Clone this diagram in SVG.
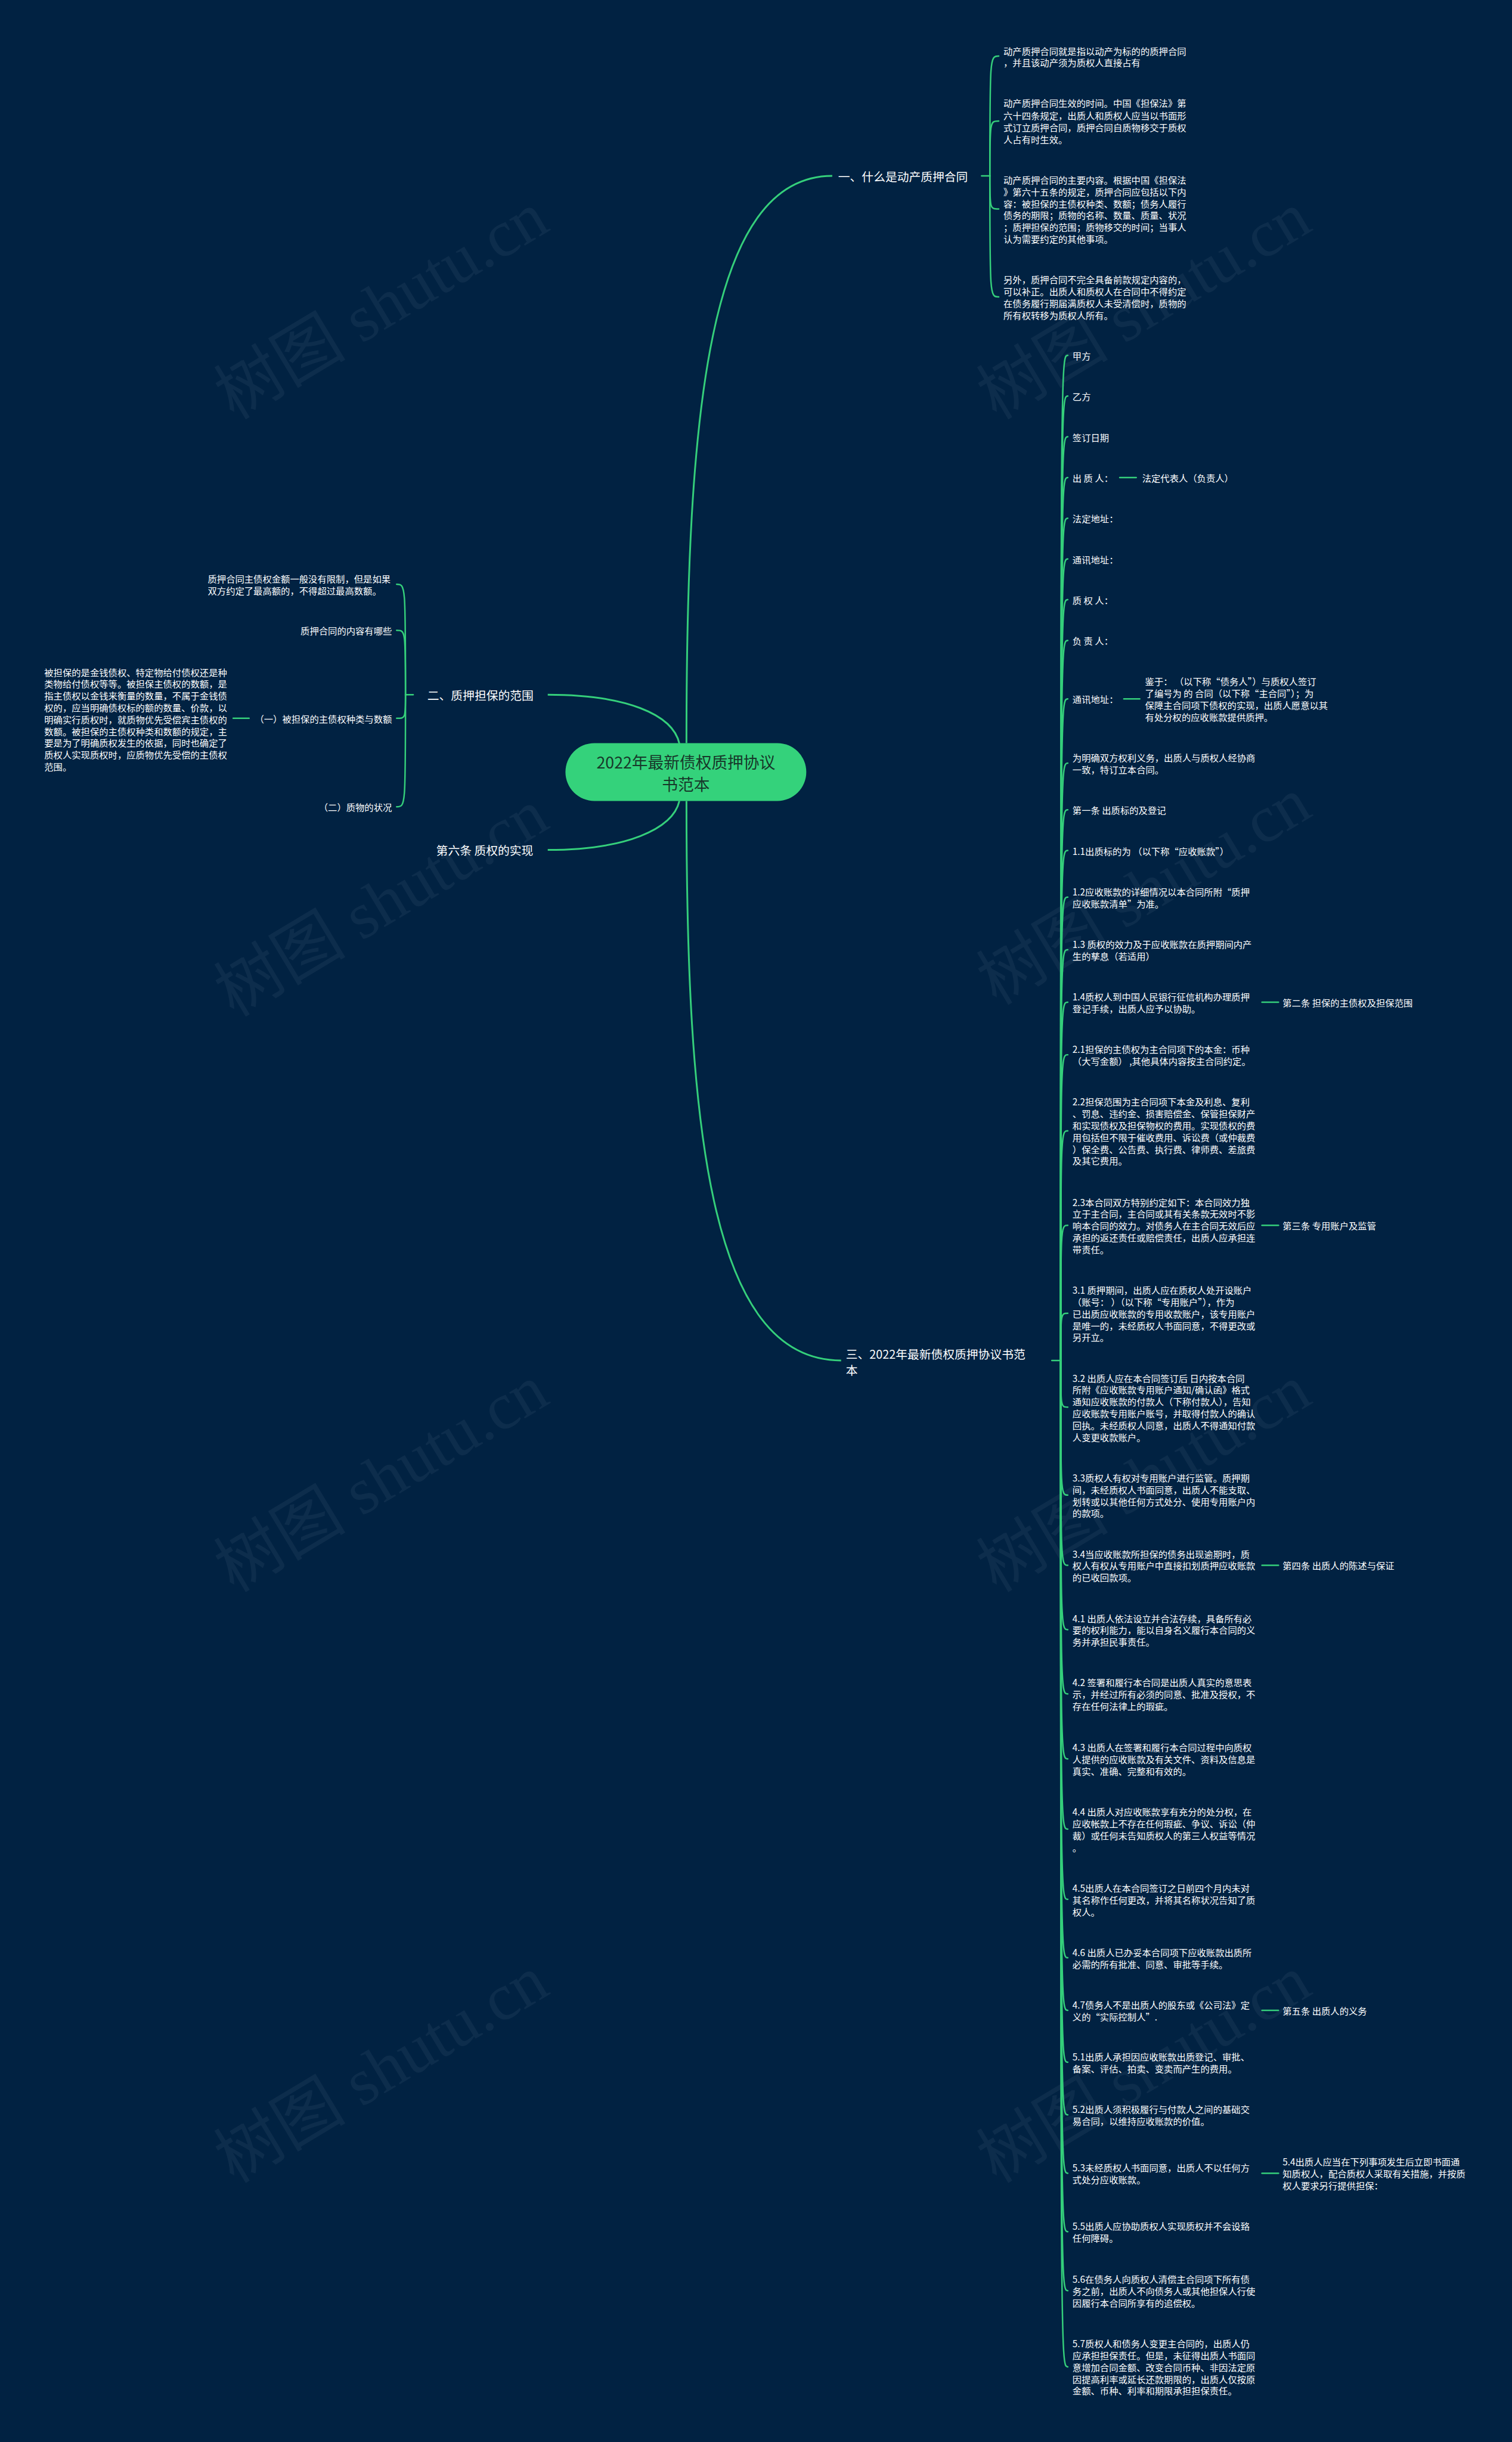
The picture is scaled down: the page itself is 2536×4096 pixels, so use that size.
<svg xmlns="http://www.w3.org/2000/svg" width="2536" height="4096" viewBox="0 0 2536 4096">
<style>
.t{font-family:"Noto Sans CJK SC","Microsoft YaHei",sans-serif;font-size:15.5px;fill:#ffffff;dominant-baseline:central}
.b{font-size:20px}
.r{font-size:27px;fill:#17382a;text-anchor:middle}
.e{text-anchor:end}
.ln{fill:none;stroke:#35cf7b;stroke-width:2.5;stroke-linecap:round}
.mn{fill:none;stroke:#35cf7b;stroke-width:3}
.wm{font-family:"Liberation Serif","Noto Sans CJK SC",serif;font-size:112px;fill:#8a9bb0;opacity:0.09;text-anchor:middle;dominant-baseline:central}
</style>
<rect width="2536" height="4096" fill="#012242"/>
<g transform="scale(0.99)">
<g id="watermarks">
<text class="wm" transform="translate(646,518) rotate(-31)">树图 shutu.cn</text>
<text class="wm" transform="translate(646,1530) rotate(-31)">树图 shutu.cn</text>
<text class="wm" transform="translate(646,2505) rotate(-31)">树图 shutu.cn</text>
<text class="wm" transform="translate(646,3506) rotate(-31)">树图 shutu.cn</text>
<text class="wm" transform="translate(1938,518) rotate(-31)">树图 shutu.cn</text>
<text class="wm" transform="translate(1938,1510) rotate(-31)">树图 shutu.cn</text>
<text class="wm" transform="translate(1938,2505) rotate(-31)">树图 shutu.cn</text>
<text class="wm" transform="translate(1938,3506) rotate(-31)">树图 shutu.cn</text>
</g>
<g id="connectors">
<path class="mn" d="M1163,1259 C1163,700 1200,298 1410,298"/>
<path class="mn" d="M1163,1357 C1163,1900 1200,2305 1425,2305"/>
<path class="mn" d="M1151,1260 C1140,1210 1060,1177 928,1177"/>
<path class="mn" d="M1151,1357 C1140,1405 1060,1440 928,1440"/>
<path class="ln" d="M1663,298 L1677,298"/>
<path class="ln" d="M1677,298 C1677,95 1677,95 1692,95"/>
<path class="ln" d="M1677,298 C1677,205 1677,205 1692,205"/>
<path class="ln" d="M1677,298 C1677,354 1677,354 1692,354"/>
<path class="ln" d="M1677,298 C1677,503 1677,503 1692,503"/>
<path class="ln" d="M700,1177 L687,1177"/>
<path class="ln" d="M687,1177 C687,990 687,990 672,990"/>
<path class="ln" d="M687,1177 C687,1068 687,1068 672,1068"/>
<path class="ln" d="M687,1177 C687,1217 687,1217 672,1217"/>
<path class="ln" d="M687,1177 C687,1367 687,1367 672,1367"/>
<path class="ln" d="M395,1217 L422,1217"/>
<path class="ln" d="M1782,2305 L1797,2305"/>
<path class="ln" d="M1797,2305 C1797,602 1797,602 1809,602"/>
<path class="ln" d="M1797,2305 C1797,671 1797,671 1809,671"/>
<path class="ln" d="M1797,2305 C1797,740 1797,740 1809,740"/>
<path class="ln" d="M1797,2305 C1797,809 1797,809 1809,809"/>
<path class="ln" d="M1797,2305 C1797,878 1797,878 1809,878"/>
<path class="ln" d="M1797,2305 C1797,947 1797,947 1809,947"/>
<path class="ln" d="M1797,2305 C1797,1016 1797,1016 1809,1016"/>
<path class="ln" d="M1797,2305 C1797,1085 1797,1085 1809,1085"/>
<path class="ln" d="M1797,2305 C1797,1184 1797,1184 1809,1184"/>
<path class="ln" d="M1797,2305 C1797,1293 1797,1293 1809,1293"/>
<path class="ln" d="M1797,2305 C1797,1372 1797,1372 1809,1372"/>
<path class="ln" d="M1797,2305 C1797,1441 1797,1441 1809,1441"/>
<path class="ln" d="M1797,2305 C1797,1520 1797,1520 1809,1520"/>
<path class="ln" d="M1797,2305 C1797,1609 1797,1609 1809,1609"/>
<path class="ln" d="M1797,2305 C1797,1698 1797,1698 1809,1698"/>
<path class="ln" d="M1797,2305 C1797,1787 1797,1787 1809,1787"/>
<path class="ln" d="M1797,2305 C1797,1916 1797,1916 1809,1916"/>
<path class="ln" d="M1797,2305 C1797,2076 1797,2076 1809,2076"/>
<path class="ln" d="M1797,2305 C1797,2225 1797,2225 1809,2225"/>
<path class="ln" d="M1797,2305 C1797,2384 1797,2384 1809,2384"/>
<path class="ln" d="M1797,2305 C1797,2533 1797,2533 1809,2533"/>
<path class="ln" d="M1797,2305 C1797,2652 1797,2652 1809,2652"/>
<path class="ln" d="M1797,2305 C1797,2761 1797,2761 1809,2761"/>
<path class="ln" d="M1797,2305 C1797,2870 1797,2870 1809,2870"/>
<path class="ln" d="M1797,2305 C1797,2980 1797,2980 1809,2980"/>
<path class="ln" d="M1797,2305 C1797,3099 1797,3099 1809,3099"/>
<path class="ln" d="M1797,2305 C1797,3218 1797,3218 1809,3218"/>
<path class="ln" d="M1797,2305 C1797,3317 1797,3317 1809,3317"/>
<path class="ln" d="M1797,2305 C1797,3406 1797,3406 1809,3406"/>
<path class="ln" d="M1797,2305 C1797,3494 1797,3494 1809,3494"/>
<path class="ln" d="M1797,2305 C1797,3583 1797,3583 1809,3583"/>
<path class="ln" d="M1797,2305 C1797,3682 1797,3682 1809,3682"/>
<path class="ln" d="M1797,2305 C1797,3781 1797,3781 1809,3781"/>
<path class="ln" d="M1797,2305 C1797,3881 1797,3881 1809,3881"/>
<path class="ln" d="M1797,2305 C1797,4010 1797,4010 1809,4010"/>
<path class="ln" d="M1897,809 L1925,809"/>
<path class="ln" d="M1904,1184 L1931,1184"/>
<path class="ln" d="M2138,1698 L2166,1698"/>
<path class="ln" d="M2138,2076 L2166,2076"/>
<path class="ln" d="M2138,2652 L2166,2652"/>
<path class="ln" d="M2138,3406 L2166,3406"/>
<path class="ln" d="M2138,3682 L2166,3682"/>
</g>
<g id="root">
<rect x="958" y="1259" width="408" height="98" rx="49" fill="#34d27b"/>
<text class="t r"><tspan x="1162" y="1290">2022年最新债权质押协议</tspan><tspan x="1162" y="1327">书范本</tspan></text>
</g>
<g id="n1"><text class="t b" x="1420" y="298">一、什么是动产质押合同</text></g>
<g id="n1-1"><text class="t"><tspan x="1700" y="86">动产质押合同就是指以动产为标的的质押合同</tspan><tspan x="1700" y="105">，并且该动产须为质权人直接占有</tspan></text></g>
<g id="n1-2"><text class="t"><tspan x="1700" y="174">动产质押合同生效的时间。中国《担保法》第</tspan><tspan x="1700" y="195">六十四条规定，出质人和质权人应当以书面形</tspan><tspan x="1700" y="215">式订立质押合同，质押合同自质物移交于质权</tspan><tspan x="1700" y="235">人占有时生效。</tspan></text></g>
<g id="n1-3"><text class="t"><tspan x="1700" y="304">动产质押合同的主要内容。根据中国《担保法</tspan><tspan x="1700" y="324">》第六十五条的规定，质押合同应包括以下内</tspan><tspan x="1700" y="344">容：被担保的主债权种类、数额；债务人履行</tspan><tspan x="1700" y="364">债务的期限；质物的名称、数量、质量、状况</tspan><tspan x="1700" y="384">；质押担保的范围；质物移交的时间；当事人</tspan><tspan x="1700" y="404">认为需要约定的其他事项。</tspan></text></g>
<g id="n1-4"><text class="t"><tspan x="1700" y="473">另外，质押合同不完全具备前款规定内容的，</tspan><tspan x="1700" y="493">可以补正。出质人和质权人在合同中不得约定</tspan><tspan x="1700" y="513">在债务履行期届满质权人未受清偿时，质物的</tspan><tspan x="1700" y="533">所有权转移为质权人所有。</tspan></text></g>
<g id="n2"><text class="t b" x="724" y="1177">二、质押担保的范围</text></g>
<g id="n2-1"><text class="t"><tspan x="352" y="980">质押合同主债权金额一般没有限制，但是如果</tspan><tspan x="352" y="1000">双方约定了最高额的，不得超过最高数额。</tspan></text></g>
<g id="n2-2"><text class="t e" x="664" y="1068">质押合同的内容有哪些</text></g>
<g id="n2-3"><text class="t e" x="664" y="1217">（一）被担保的主债权种类与数额</text></g>
<g id="n2-3-1"><text class="t"><tspan x="75" y="1138">被担保的是金钱债权、特定物给付债权还是种</tspan><tspan x="75" y="1158">类物给付债权等等。被担保主债权的数额，是</tspan><tspan x="75" y="1178">指主债权以金钱来衡量的数量，不属于金钱债</tspan><tspan x="75" y="1198">权的，应当明确债权标的额的数量、价款，以</tspan><tspan x="75" y="1218">明确实行质权时，就质物优先受偿宾主债权的</tspan><tspan x="75" y="1238">数额。被担保的主债权种类和数额的规定，主</tspan><tspan x="75" y="1258">要是为了明确质权发生的依据，同时也确定了</tspan><tspan x="75" y="1278">质权人实现质权时，应质物优先受偿的主债权</tspan><tspan x="75" y="1298">范围。</tspan></text></g>
<g id="n2-4"><text class="t e" x="664" y="1367">（二）质物的状况</text></g>
<g id="n4"><text class="t b" x="739" y="1440">第六条 质权的实现</text></g>
<g id="n3"><text class="t b"><tspan x="1433" y="2293">三、2022年最新债权质押协议书范</tspan><tspan x="1433" y="2320">本</tspan></text></g>
<g id="n3-1"><text class="t" x="1817" y="602">甲方</text></g>
<g id="n3-2"><text class="t" x="1817" y="671">乙方</text></g>
<g id="n3-3"><text class="t" x="1817" y="740">签订日期</text></g>
<g id="n3-4"><text class="t" x="1817" y="809">出 质 人：</text></g>
<g id="n3-4-1"><text class="t" x="1935" y="809">法定代表人（负责人）</text></g>
<g id="n3-5"><text class="t" x="1817" y="878">法定地址：</text></g>
<g id="n3-6"><text class="t" x="1817" y="947">通讯地址：</text></g>
<g id="n3-7"><text class="t" x="1817" y="1016">质 权 人：</text></g>
<g id="n3-8"><text class="t" x="1817" y="1085">负 责 人：</text></g>
<g id="n3-9"><text class="t" x="1817" y="1184">通讯地址：</text></g>
<g id="n3-9-1"><text class="t"><tspan x="1940" y="1154">鉴于：   （以下称“债务人”）与质权人签订</tspan><tspan x="1940" y="1174">了编号为 的 合同（以下称“主合同”）；为</tspan><tspan x="1940" y="1194">保障主合同项下债权的实现，出质人愿意以其</tspan><tspan x="1940" y="1214">有处分权的应收账款提供质押。</tspan></text></g>
<g id="n3-10"><text class="t"><tspan x="1817" y="1283">为明确双方权利义务，出质人与质权人经协商</tspan><tspan x="1817" y="1303">一致，特订立本合同。</tspan></text></g>
<g id="n3-11"><text class="t" x="1817" y="1372">第一条 出质标的及登记</text></g>
<g id="n3-12"><text class="t" x="1817" y="1441">1.1出质标的为  （以下称“应收账款”）</text></g>
<g id="n3-13"><text class="t"><tspan x="1817" y="1510">1.2应收账款的详细情况以本合同所附“质押</tspan><tspan x="1817" y="1530">应收账款清单”为准。</tspan></text></g>
<g id="n3-14"><text class="t"><tspan x="1817" y="1599">1.3 质权的效力及于应收账款在质押期间内产</tspan><tspan x="1817" y="1619">生的孳息（若适用）</tspan></text></g>
<g id="n3-15"><text class="t"><tspan x="1817" y="1688">1.4质权人到中国人民银行征信机构办理质押</tspan><tspan x="1817" y="1708">登记手续，出质人应予以协助。</tspan></text></g>
<g id="n3-15-1"><text class="t" x="2173" y="1698">第二条 担保的主债权及担保范围</text></g>
<g id="n3-16"><text class="t"><tspan x="1817" y="1777">2.1担保的主债权为主合同项下的本金：币种</tspan><tspan x="1817" y="1797">（大写金额）   ,其他具体内容按主合同约定。</tspan></text></g>
<g id="n3-17"><text class="t"><tspan x="1817" y="1866">2.2担保范围为主合同项下本金及利息、复利</tspan><tspan x="1817" y="1886">、罚息、违约金、损害赔偿金、保管担保财产</tspan><tspan x="1817" y="1906">和实现债权及担保物权的费用。实现债权的费</tspan><tspan x="1817" y="1926">用包括但不限于催收费用、诉讼费（或仲裁费</tspan><tspan x="1817" y="1946">）保全费、公告费、执行费、律师费、差旅费</tspan><tspan x="1817" y="1966">及其它费用。</tspan></text></g>
<g id="n3-18"><text class="t"><tspan x="1817" y="2036">2.3本合同双方特别约定如下：本合同效力独</tspan><tspan x="1817" y="2056">立于主合同，主合同或其有关条款无效时不影</tspan><tspan x="1817" y="2076">响本合同的效力。对债务人在主合同无效后应</tspan><tspan x="1817" y="2096">承担的返还责任或赔偿责任，出质人应承担连</tspan><tspan x="1817" y="2116">带责任。</tspan></text></g>
<g id="n3-18-1"><text class="t" x="2173" y="2076">第三条 专用账户及监管</text></g>
<g id="n3-19"><text class="t"><tspan x="1817" y="2185">3.1 质押期间，出质人应在质权人处开设账户</tspan><tspan x="1817" y="2205">（账号：  ）（以下称“专用账户”），作为</tspan><tspan x="1817" y="2225">已出质应收账款的专用收款账户，该专用账户</tspan><tspan x="1817" y="2245">是唯一的，未经质权人书面同意，不得更改或</tspan><tspan x="1817" y="2265">另开立。</tspan></text></g>
<g id="n3-20"><text class="t"><tspan x="1817" y="2334">3.2 出质人应在本合同签订后 日内按本合同</tspan><tspan x="1817" y="2354">所附《应收账款专用账户通知/确认函》格式</tspan><tspan x="1817" y="2374">通知应收账款的付款人（下称付款人），告知</tspan><tspan x="1817" y="2394">应收账款专用账户账号，并取得付款人的确认</tspan><tspan x="1817" y="2414">回执。未经质权人同意，出质人不得通知付款</tspan><tspan x="1817" y="2434">人变更收款账户。</tspan></text></g>
<g id="n3-21"><text class="t"><tspan x="1817" y="2503">3.3质权人有权对专用账户进行监管。质押期</tspan><tspan x="1817" y="2523">间，未经质权人书面同意，出质人不能支取、</tspan><tspan x="1817" y="2543">划转或以其他任何方式处分、使用专用账户内</tspan><tspan x="1817" y="2563">的款项。</tspan></text></g>
<g id="n3-22"><text class="t"><tspan x="1817" y="2632">3.4当应收账款所担保的债务出现逾期时，质</tspan><tspan x="1817" y="2652">权人有权从专用账户中直接扣划质押应收账款</tspan><tspan x="1817" y="2672">的已收回款项。</tspan></text></g>
<g id="n3-22-1"><text class="t" x="2173" y="2652">第四条 出质人的陈述与保证</text></g>
<g id="n3-23"><text class="t"><tspan x="1817" y="2741">4.1 出质人依法设立并合法存续，具备所有必</tspan><tspan x="1817" y="2761">要的权利能力，能以自身名义履行本合同的义</tspan><tspan x="1817" y="2781">务并承担民事责任。</tspan></text></g>
<g id="n3-24"><text class="t"><tspan x="1817" y="2850">4.2 签署和履行本合同是出质人真实的意思表</tspan><tspan x="1817" y="2870">示，并经过所有必须的同意、批准及授权，不</tspan><tspan x="1817" y="2890">存在任何法律上的瑕疵。</tspan></text></g>
<g id="n3-25"><text class="t"><tspan x="1817" y="2960">4.3 出质人在签署和履行本合同过程中向质权</tspan><tspan x="1817" y="2980">人提供的应收账款及有关文件、资料及信息是</tspan><tspan x="1817" y="3000">真实、准确、完整和有效的。</tspan></text></g>
<g id="n3-26"><text class="t"><tspan x="1817" y="3069">4.4 出质人对应收账款享有充分的处分权，在</tspan><tspan x="1817" y="3089">应收帐款上不存在任何瑕疵、争议、诉讼（仲</tspan><tspan x="1817" y="3109">裁）或任何未告知质权人的第三人权益等情况</tspan><tspan x="1817" y="3129">。</tspan></text></g>
<g id="n3-27"><text class="t"><tspan x="1817" y="3198">4.5出质人在本合同签订之日前四个月内未对</tspan><tspan x="1817" y="3218">其名称作任何更改，并将其名称状况告知了质</tspan><tspan x="1817" y="3238">权人。</tspan></text></g>
<g id="n3-28"><text class="t"><tspan x="1817" y="3307">4.6 出质人已办妥本合同项下应收账款出质所</tspan><tspan x="1817" y="3327">必需的所有批准、同意、审批等手续。</tspan></text></g>
<g id="n3-29"><text class="t"><tspan x="1817" y="3396">4.7债务人不是出质人的股东或《公司法》定</tspan><tspan x="1817" y="3416">义的“实际控制人”.</tspan></text></g>
<g id="n3-29-1"><text class="t" x="2173" y="3406">第五条 出质人的义务</text></g>
<g id="n3-30"><text class="t"><tspan x="1817" y="3484">5.1出质人承担因应收账款出质登记、审批、</tspan><tspan x="1817" y="3504">备案、评估、拍卖、变卖而产生的费用。</tspan></text></g>
<g id="n3-31"><text class="t"><tspan x="1817" y="3573">5.2出质人须积极履行与付款人之间的基础交</tspan><tspan x="1817" y="3593">易合同，以维持应收账款的价值。</tspan></text></g>
<g id="n3-32"><text class="t"><tspan x="1817" y="3672">5.3未经质权人书面同意，出质人不以任何方</tspan><tspan x="1817" y="3692">式处分应收账款。</tspan></text></g>
<g id="n3-32-1"><text class="t"><tspan x="2173" y="3662">5.4出质人应当在下列事项发生后立即书面通</tspan><tspan x="2173" y="3682">知质权人，配合质权人采取有关措施，并按质</tspan><tspan x="2173" y="3702">权人要求另行提供担保：</tspan></text></g>
<g id="n3-33"><text class="t"><tspan x="1817" y="3771">5.5出质人应协助质权人实现质权并不会设臵</tspan><tspan x="1817" y="3791">任何障碍。</tspan></text></g>
<g id="n3-34"><text class="t"><tspan x="1817" y="3861">5.6在债务人向质权人清偿主合同项下所有债</tspan><tspan x="1817" y="3881">务之前，出质人不向债务人或其他担保人行使</tspan><tspan x="1817" y="3901">因履行本合同所享有的追偿权。</tspan></text></g>
<g id="n3-35"><text class="t"><tspan x="1817" y="3970">5.7质权人和债务人变更主合同的，出质人仍</tspan><tspan x="1817" y="3990">应承担担保责任。但是，未征得出质人书面同</tspan><tspan x="1817" y="4010">意增加合同金额、改变合同币种、非因法定原</tspan><tspan x="1817" y="4030">因提高利率或延长还款期限的，出质人仅按原</tspan><tspan x="1817" y="4050">金额、币种、利率和期限承担担保责任。</tspan></text></g>
</g>
</svg>
